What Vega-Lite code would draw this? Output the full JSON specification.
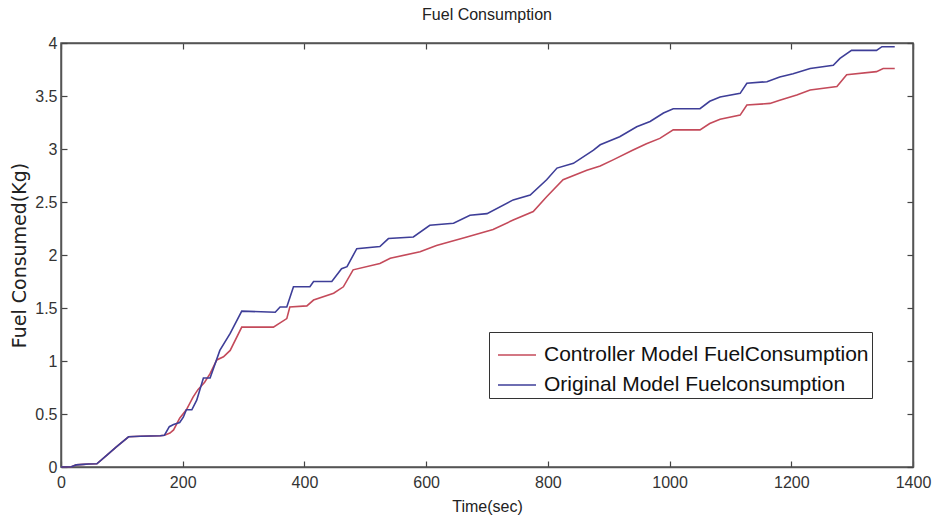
{
  "$schema": "https://vega.github.io/schema/vega-lite/v6.json",
  "width": 852,
  "height": 424,
  "autosize": "none",
  "padding": {"left": 61, "top": 43, "right": 20, "bottom": 51},
  "background": "white",
  "title": {"text": "Fuel Consumption", "font": "Liberation Sans", "fontSize": 16, "fontWeight": "normal", "color": "#222", "offset": 12},
  "config": {
    "view": {"stroke": "#555", "strokeWidth": 1.5},
    "axis": {"grid": false, "domainColor": "#555", "domainWidth": 1.5, "tickColor": "#444", "tickWidth": 1.2, "tickSize": -6, "labelFont": "Liberation Sans", "labelFontSize": 16, "labelColor": "#333", "titleFont": "Liberation Sans", "titleFontSize": 16, "titleFontWeight": "normal", "titleColor": "#222"}
  },
  "data": {"values": [
    {"t": 0, "v": 0, "s": "Controller Model FuelConsumption"},
    {"t": 17, "v": 0.003, "s": "Controller Model FuelConsumption"},
    {"t": 25, "v": 0.02, "s": "Controller Model FuelConsumption"},
    {"t": 37, "v": 0.025, "s": "Controller Model FuelConsumption"},
    {"t": 45, "v": 0.028, "s": "Controller Model FuelConsumption"},
    {"t": 59, "v": 0.03, "s": "Controller Model FuelConsumption"},
    {"t": 75, "v": 0.11, "s": "Controller Model FuelConsumption"},
    {"t": 91, "v": 0.19, "s": "Controller Model FuelConsumption"},
    {"t": 111, "v": 0.285, "s": "Controller Model FuelConsumption"},
    {"t": 130, "v": 0.29, "s": "Controller Model FuelConsumption"},
    {"t": 163, "v": 0.295, "s": "Controller Model FuelConsumption"},
    {"t": 170, "v": 0.30, "s": "Controller Model FuelConsumption"},
    {"t": 179, "v": 0.32, "s": "Controller Model FuelConsumption"},
    {"t": 185, "v": 0.35, "s": "Controller Model FuelConsumption"},
    {"t": 195, "v": 0.46, "s": "Controller Model FuelConsumption"},
    {"t": 206, "v": 0.54, "s": "Controller Model FuelConsumption"},
    {"t": 217, "v": 0.66, "s": "Controller Model FuelConsumption"},
    {"t": 225, "v": 0.73, "s": "Controller Model FuelConsumption"},
    {"t": 236, "v": 0.80, "s": "Controller Model FuelConsumption"},
    {"t": 245, "v": 0.88, "s": "Controller Model FuelConsumption"},
    {"t": 256, "v": 1.01, "s": "Controller Model FuelConsumption"},
    {"t": 267, "v": 1.04, "s": "Controller Model FuelConsumption"},
    {"t": 278, "v": 1.10, "s": "Controller Model FuelConsumption"},
    {"t": 297, "v": 1.32, "s": "Controller Model FuelConsumption"},
    {"t": 349, "v": 1.32, "s": "Controller Model FuelConsumption"},
    {"t": 360, "v": 1.36, "s": "Controller Model FuelConsumption"},
    {"t": 371, "v": 1.40, "s": "Controller Model FuelConsumption"},
    {"t": 376, "v": 1.51, "s": "Controller Model FuelConsumption"},
    {"t": 404, "v": 1.52, "s": "Controller Model FuelConsumption"},
    {"t": 415, "v": 1.575, "s": "Controller Model FuelConsumption"},
    {"t": 448, "v": 1.64, "s": "Controller Model FuelConsumption"},
    {"t": 464, "v": 1.70, "s": "Controller Model FuelConsumption"},
    {"t": 480, "v": 1.86, "s": "Controller Model FuelConsumption"},
    {"t": 524, "v": 1.92, "s": "Controller Model FuelConsumption"},
    {"t": 541, "v": 1.97, "s": "Controller Model FuelConsumption"},
    {"t": 590, "v": 2.03, "s": "Controller Model FuelConsumption"},
    {"t": 617, "v": 2.09, "s": "Controller Model FuelConsumption"},
    {"t": 667, "v": 2.17, "s": "Controller Model FuelConsumption"},
    {"t": 710, "v": 2.24, "s": "Controller Model FuelConsumption"},
    {"t": 743, "v": 2.33, "s": "Controller Model FuelConsumption"},
    {"t": 776, "v": 2.41, "s": "Controller Model FuelConsumption"},
    {"t": 798, "v": 2.55, "s": "Controller Model FuelConsumption"},
    {"t": 825, "v": 2.71, "s": "Controller Model FuelConsumption"},
    {"t": 864, "v": 2.80, "s": "Controller Model FuelConsumption"},
    {"t": 886, "v": 2.84, "s": "Controller Model FuelConsumption"},
    {"t": 908, "v": 2.90, "s": "Controller Model FuelConsumption"},
    {"t": 940, "v": 2.99, "s": "Controller Model FuelConsumption"},
    {"t": 962, "v": 3.05, "s": "Controller Model FuelConsumption"},
    {"t": 984, "v": 3.10, "s": "Controller Model FuelConsumption"},
    {"t": 1006, "v": 3.18, "s": "Controller Model FuelConsumption"},
    {"t": 1050, "v": 3.18, "s": "Controller Model FuelConsumption"},
    {"t": 1066, "v": 3.24, "s": "Controller Model FuelConsumption"},
    {"t": 1083, "v": 3.28, "s": "Controller Model FuelConsumption"},
    {"t": 1116, "v": 3.32, "s": "Controller Model FuelConsumption"},
    {"t": 1127, "v": 3.415, "s": "Controller Model FuelConsumption"},
    {"t": 1165, "v": 3.43, "s": "Controller Model FuelConsumption"},
    {"t": 1181, "v": 3.46, "s": "Controller Model FuelConsumption"},
    {"t": 1209, "v": 3.51, "s": "Controller Model FuelConsumption"},
    {"t": 1231, "v": 3.556, "s": "Controller Model FuelConsumption"},
    {"t": 1275, "v": 3.59, "s": "Controller Model FuelConsumption"},
    {"t": 1291, "v": 3.70, "s": "Controller Model FuelConsumption"},
    {"t": 1340, "v": 3.73, "s": "Controller Model FuelConsumption"},
    {"t": 1351, "v": 3.76, "s": "Controller Model FuelConsumption"},
    {"t": 1370, "v": 3.76, "s": "Controller Model FuelConsumption"},
    {"t": 0, "v": 0, "s": "Original Model Fuelconsumption"},
    {"t": 17, "v": 0.003, "s": "Original Model Fuelconsumption"},
    {"t": 25, "v": 0.02, "s": "Original Model Fuelconsumption"},
    {"t": 37, "v": 0.025, "s": "Original Model Fuelconsumption"},
    {"t": 45, "v": 0.028, "s": "Original Model Fuelconsumption"},
    {"t": 59, "v": 0.03, "s": "Original Model Fuelconsumption"},
    {"t": 75, "v": 0.11, "s": "Original Model Fuelconsumption"},
    {"t": 91, "v": 0.19, "s": "Original Model Fuelconsumption"},
    {"t": 111, "v": 0.285, "s": "Original Model Fuelconsumption"},
    {"t": 130, "v": 0.29, "s": "Original Model Fuelconsumption"},
    {"t": 163, "v": 0.295, "s": "Original Model Fuelconsumption"},
    {"t": 170, "v": 0.30, "s": "Original Model Fuelconsumption"},
    {"t": 178, "v": 0.38, "s": "Original Model Fuelconsumption"},
    {"t": 185, "v": 0.40, "s": "Original Model Fuelconsumption"},
    {"t": 195, "v": 0.42, "s": "Original Model Fuelconsumption"},
    {"t": 201, "v": 0.47, "s": "Original Model Fuelconsumption"},
    {"t": 206, "v": 0.54, "s": "Original Model Fuelconsumption"},
    {"t": 215, "v": 0.54, "s": "Original Model Fuelconsumption"},
    {"t": 223, "v": 0.63, "s": "Original Model Fuelconsumption"},
    {"t": 234, "v": 0.84, "s": "Original Model Fuelconsumption"},
    {"t": 245, "v": 0.84, "s": "Original Model Fuelconsumption"},
    {"t": 261, "v": 1.10, "s": "Original Model Fuelconsumption"},
    {"t": 278, "v": 1.26, "s": "Original Model Fuelconsumption"},
    {"t": 297, "v": 1.47, "s": "Original Model Fuelconsumption"},
    {"t": 352, "v": 1.46, "s": "Original Model Fuelconsumption"},
    {"t": 360, "v": 1.51, "s": "Original Model Fuelconsumption"},
    {"t": 371, "v": 1.51, "s": "Original Model Fuelconsumption"},
    {"t": 382, "v": 1.70, "s": "Original Model Fuelconsumption"},
    {"t": 409, "v": 1.70, "s": "Original Model Fuelconsumption"},
    {"t": 415, "v": 1.75, "s": "Original Model Fuelconsumption"},
    {"t": 445, "v": 1.75, "s": "Original Model Fuelconsumption"},
    {"t": 461, "v": 1.87, "s": "Original Model Fuelconsumption"},
    {"t": 470, "v": 1.89, "s": "Original Model Fuelconsumption"},
    {"t": 486, "v": 2.06, "s": "Original Model Fuelconsumption"},
    {"t": 524, "v": 2.08, "s": "Original Model Fuelconsumption"},
    {"t": 538, "v": 2.155, "s": "Original Model Fuelconsumption"},
    {"t": 579, "v": 2.17, "s": "Original Model Fuelconsumption"},
    {"t": 606, "v": 2.28, "s": "Original Model Fuelconsumption"},
    {"t": 645, "v": 2.30, "s": "Original Model Fuelconsumption"},
    {"t": 672, "v": 2.375, "s": "Original Model Fuelconsumption"},
    {"t": 700, "v": 2.39, "s": "Original Model Fuelconsumption"},
    {"t": 743, "v": 2.52, "s": "Original Model Fuelconsumption"},
    {"t": 771, "v": 2.565, "s": "Original Model Fuelconsumption"},
    {"t": 798, "v": 2.71, "s": "Original Model Fuelconsumption"},
    {"t": 815, "v": 2.82, "s": "Original Model Fuelconsumption"},
    {"t": 842, "v": 2.865, "s": "Original Model Fuelconsumption"},
    {"t": 875, "v": 2.99, "s": "Original Model Fuelconsumption"},
    {"t": 886, "v": 3.04, "s": "Original Model Fuelconsumption"},
    {"t": 918, "v": 3.115, "s": "Original Model Fuelconsumption"},
    {"t": 946, "v": 3.21, "s": "Original Model Fuelconsumption"},
    {"t": 968, "v": 3.26, "s": "Original Model Fuelconsumption"},
    {"t": 990, "v": 3.34, "s": "Original Model Fuelconsumption"},
    {"t": 1006, "v": 3.38, "s": "Original Model Fuelconsumption"},
    {"t": 1050, "v": 3.38, "s": "Original Model Fuelconsumption"},
    {"t": 1066, "v": 3.45, "s": "Original Model Fuelconsumption"},
    {"t": 1083, "v": 3.49, "s": "Original Model Fuelconsumption"},
    {"t": 1116, "v": 3.525, "s": "Original Model Fuelconsumption"},
    {"t": 1127, "v": 3.62, "s": "Original Model Fuelconsumption"},
    {"t": 1160, "v": 3.635, "s": "Original Model Fuelconsumption"},
    {"t": 1181, "v": 3.68, "s": "Original Model Fuelconsumption"},
    {"t": 1203, "v": 3.71, "s": "Original Model Fuelconsumption"},
    {"t": 1231, "v": 3.76, "s": "Original Model Fuelconsumption"},
    {"t": 1269, "v": 3.79, "s": "Original Model Fuelconsumption"},
    {"t": 1280, "v": 3.855, "s": "Original Model Fuelconsumption"},
    {"t": 1299, "v": 3.93, "s": "Original Model Fuelconsumption"},
    {"t": 1340, "v": 3.93, "s": "Original Model Fuelconsumption"},
    {"t": 1349, "v": 3.965, "s": "Original Model Fuelconsumption"},
    {"t": 1370, "v": 3.965, "s": "Original Model Fuelconsumption"}
  ]},
  "layer": [
    {
      "mark": {"type": "line", "strokeWidth": 1.6, "interpolate": "linear"},
      "encoding": {
        "x": {"field": "t", "type": "quantitative", "scale": {"domain": [0, 1400], "nice": false}, "axis": {"orient": "bottom", "values": [0, 200, 400, 600, 800, 1000, 1200, 1400], "format": "d", "labelPadding": 13, "title": "Time(sec)", "titlePadding": 8, "labelFlush": false}},
        "y": {"field": "v", "type": "quantitative", "scale": {"domain": [0, 4], "nice": false}, "axis": {"orient": "left", "values": [0, 0.5, 1, 1.5, 2, 2.5, 3, 3.5, 4], "format": "~g", "labelPadding": 10, "title": "Fuel Consumed(Kg)", "titleFont": "DejaVu Sans", "titleFontSize": 19, "titlePadding": 5, "labelFlush": false}},
        "color": {"field": "s", "type": "nominal", "scale": {"domain": ["Controller Model FuelConsumption", "Original Model Fuelconsumption"], "range": ["#c44a5a", "#3e3e98"]},
          "legend": {"title": null, "orient": "none", "legendX": 428, "legendY": 289, "symbolType": "stroke", "symbolSize": 1444, "symbolStrokeWidth": 1.5, "symbolOffset": 5, "labelFont": "Liberation Sans", "labelFontSize": 21, "labelColor": "#111", "labelOffset": 7, "labelLimit": 500, "rowPadding": -6, "padding": 3, "strokeColor": "#333", "fillColor": "white", "symbolOpacity": 1}}
      }
    },
    {
      "mark": {"type": "line", "strokeOpacity": 0},
      "encoding": {
        "x": {"field": "t", "type": "quantitative", "axis": {"orient": "top", "values": [0, 200, 400, 600, 800, 1000, 1200, 1400], "labels": false, "title": null}},
        "y": {"field": "v", "type": "quantitative", "axis": {"orient": "right", "values": [0, 0.5, 1, 1.5, 2, 2.5, 3, 3.5, 4], "labels": false, "title": null}}
      }
    }
  ],
  "resolve": {"axis": {"x": "independent", "y": "independent"}}
}
